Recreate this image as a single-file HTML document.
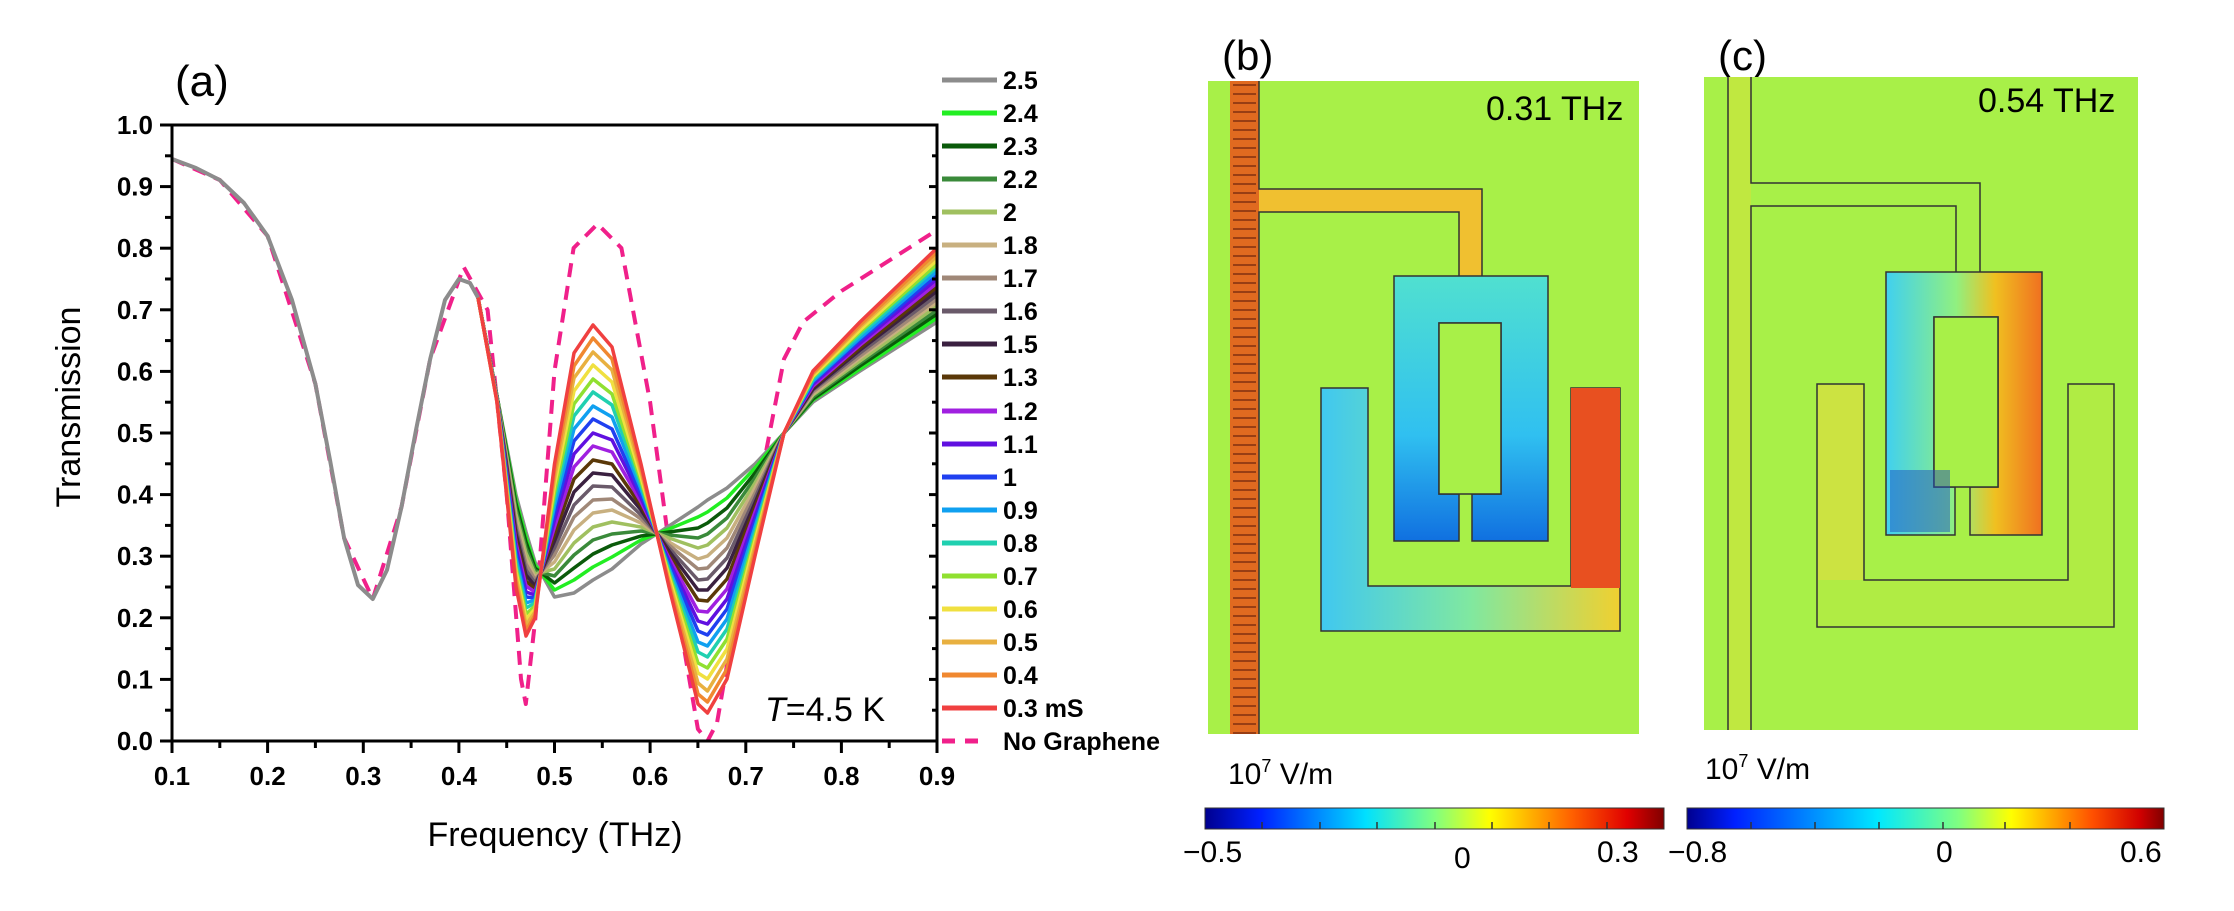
<!DOCTYPE html>
<html><head><meta charset="utf-8">
<style>
html,body{margin:0;padding:0;background:#fff;}
svg{display:block;}
text{font-family:"Liberation Sans",Arial,sans-serif;}
</style></head>
<body>
<svg width="2234" height="911" viewBox="0 0 2234 911" xmlns="http://www.w3.org/2000/svg">
<defs>
<linearGradient id="jet" x1="0" x2="1" y1="0" y2="0">
<stop offset="0" stop-color="#00008f"/><stop offset="0.12" stop-color="#0020ff"/>
<stop offset="0.35" stop-color="#00e0ff"/><stop offset="0.5" stop-color="#80ff80"/>
<stop offset="0.62" stop-color="#ffff00"/><stop offset="0.8" stop-color="#ff6000"/>
<stop offset="0.92" stop-color="#e00000"/><stop offset="1" stop-color="#800000"/>
</linearGradient>
<linearGradient id="jet2" x1="0" x2="1" y1="0" y2="0">
<stop offset="0" stop-color="#00008f"/><stop offset="0.1" stop-color="#0020ff"/>
<stop offset="0.4" stop-color="#00e8ff"/><stop offset="0.57" stop-color="#80ff80"/>
<stop offset="0.68" stop-color="#ffff00"/><stop offset="0.85" stop-color="#ff5000"/>
<stop offset="0.95" stop-color="#d00000"/><stop offset="1" stop-color="#800000"/>
</linearGradient>
<linearGradient id="boxb" x1="0" x2="0" y1="0" y2="1">
<stop offset="0" stop-color="#50e0d0"/><stop offset="0.6" stop-color="#30c0f0"/><stop offset="1" stop-color="#1070e0"/>
</linearGradient>
<linearGradient id="ub" x1="0" x2="1" y1="0" y2="0">
<stop offset="0" stop-color="#40c8f0"/><stop offset="0.5" stop-color="#80e8a0"/><stop offset="1" stop-color="#f0d030"/>
</linearGradient>
<linearGradient id="boxc" x1="0" x2="1" y1="0" y2="0">
<stop offset="0" stop-color="#40d0f0"/><stop offset="0.45" stop-color="#90f080"/><stop offset="0.7" stop-color="#f0c020"/><stop offset="1" stop-color="#f07020"/>
</linearGradient>
<pattern id="arr" width="29" height="9" patternUnits="userSpaceOnUse" x="1230" y="81">
<rect width="29" height="9" fill="#e06a20"/><line x1="3" y1="4" x2="26" y2="4" stroke="#803010" stroke-width="1.5"/>
</pattern>
<clipPath id="cp"><rect x="172" y="125" width="765" height="616"/></clipPath>
</defs>

<!-- Panel a -->
<text x="175" y="96" font-size="44">(a)</text>
<g clip-path="url(#cp)" fill="none" stroke-width="3.5" stroke-linejoin="round">
<polyline stroke="#f0208a" stroke-width="4" stroke-dasharray="14,9" points="172,159 219.8,180 267.6,236 315.4,384 344.1,538 372.8,599 401.5,507 430.2,359 463.7,267 487.6,310 506.7,495 521,679 525.8,704 535.4,618 554.5,371 573.6,248 597.5,224 621.4,248 650.1,402 678.8,618 697.9,729 707.5,741 717,723 745.8,556 784,359 803.1,322 841.4,291 937,230"/>
<polyline stroke="#8c8c8c" points="478,297.5 497,396 516,495 526,532 535,562 554.5,597 574,593 593,580 612,569 641,544 669,526 698,507 707.5,500 727,488 755,464 784,433 813,402 860,371 937,322"/>
<polyline stroke="#22ee22" points="478,297.5 497,396 516,500 526,537 535,565 554.5,590 574,580 593,567 612,557 641,540 669,529 698,517 707.5,512 727,498 755,468 784,433 813,400 860,369 937,318"/>
<polyline stroke="#0a5a0a" points="478,297.5 497,396 516,504 526,542 535,568 554.5,583 574,568 593,554 612,545 641,536 669,532 698,528 707.5,523 727,508 755,473 784,433 813,399 860,366 937,314"/>
<polyline stroke="#3a8a3a" points="478,297.5 497,397 516,509 526,548 535,571 554.5,576 574,555 593,540 612,534 641,531 669,535 698,538 707.5,534 727,518 755,478 784,433 813,397 860,363 937,310"/>
<polyline stroke="#a0c060" points="478,297.5 497,397 516,514 526,553 535,574 554.5,569 574,543 593,527 612,522 641,527 669,538 698,548 707.5,545 727,528 755,483 784,433 813,395 860,361 937,306"/>
<polyline stroke="#c8b080" points="478,297.5 497,397 516,519 526,559 535,577 554.5,562 574,530 593,513 612,510 641,523 669,542 698,559 707.5,556 727,538 755,488 784,433 813,394 860,358 937,302"/>
<polyline stroke="#a08878" points="478,297.5 497,398 516,524 526,564 535,580 554.5,555 574,517 593,500 612,499 641,519 669,545 698,569 707.5,568 727,548 755,493 784,433 813,392 860,356 937,299"/>
<polyline stroke="#6a5a6a" points="478,297.5 497,398 516,529 526,570 535,583 554.5,548 574,505 593,486 612,487 641,515 669,548 698,580 707.5,579 727,558 755,498 784,433 813,390 860,353 937,295"/>
<polyline stroke="#3a2040" points="478,297.5 497,398 516,534 526,575 535,586 554.5,541 574,492 593,473 612,475 641,510 669,551 698,590 707.5,590 727,568 755,503 784,433 813,389 860,350 937,291"/>
<polyline stroke="#5a3808" points="478,297.5 497,399 516,538 526,581 535,589 554.5,534 574,479 593,460 612,464 641,506 669,555 698,600 707.5,601 727,579 755,507 784,433 813,387 860,348 937,287"/>
<polyline stroke="#a020e0" points="478,297.5 497,399 516,543 526,586 535,592 554.5,527 574,467 593,446 612,452 641,502 669,558 698,611 707.5,612 727,589 755,512 784,433 813,386 860,345 937,283"/>
<polyline stroke="#6010e0" points="478,297.5 497,399 516,548 526,592 535,595 554.5,520 574,454 593,433 612,440 641,498 669,561 698,621 707.5,624 727,599 755,517 784,433 813,384 860,343 937,279"/>
<polyline stroke="#2040f0" points="478,297.5 497,400 516,553 526,597 535,598 554.5,513 574,441 593,419 612,429 641,494 669,564 698,631 707.5,635 727,609 755,522 784,433 813,382 860,340 937,275"/>
<polyline stroke="#10a0f0" points="478,297.5 497,400 516,558 526,603 535,600 554.5,506 574,429 593,406 612,417 641,489 669,568 698,642 707.5,646 727,619 755,527 784,433 813,381 860,338 937,271"/>
<polyline stroke="#20d0b0" points="478,297.5 497,400 516,563 526,608 535,603 554.5,499 574,416 593,392 612,405 641,485 669,571 698,652 707.5,657 727,629 755,532 784,433 813,379 860,335 937,267"/>
<polyline stroke="#90e030" points="478,297.5 497,401 516,568 526,614 535,606 554.5,492 574,404 593,379 612,394 641,481 669,574 698,663 707.5,668 727,639 755,537 784,433 813,377 860,332 937,264"/>
<polyline stroke="#f0e040" points="478,297.5 497,401 516,572 526,619 535,609 554.5,485 574,391 593,365 612,382 641,477 669,577 698,673 707.5,679 727,649 755,541 784,433 813,376 860,330 937,260"/>
<polyline stroke="#e8b040" points="478,297.5 497,401 516,577 526,625 535,612 554.5,478 574,378 593,352 612,370 641,472 669,581 698,683 707.5,691 727,659 755,546 784,433 813,374 860,327 937,256"/>
<polyline stroke="#f08830" points="478,297.5 497,402 516,582 526,631 535,615 554.5,471 574,366 593,338 612,359 641,468 669,584 698,694 707.5,702 727,669 755,551 784,433 813,373 860,325 937,252"/>
<polyline stroke="#f04040" points="478,297.5 497,402 516,587 526,636 535,618 554.5,464 574,353 593,325 612,347 641,464 669,587 698,704 707.5,713 727,679 755,556 784,433 813,371 860,322 937,248"/>
<polyline stroke="#8c8c8c" stroke-width="4" points="172,159 196,168 219.8,180 244,203 267.6,236 292,300 315.4,384 330,460 344.1,538 358,585 372.8,599 387,570 401.5,507 416,430 430.2,359 445,300 458.9,279 470,283 478,297.5"/>
</g>
<rect x="172" y="125" width="765" height="616" fill="none" stroke="#000" stroke-width="3"/>
<g stroke="#000" stroke-width="3">
<line x1="172" y1="741" x2="172" y2="753"/><line x1="267.6" y1="741" x2="267.6" y2="753"/><line x1="363.3" y1="741" x2="363.3" y2="753"/><line x1="458.9" y1="741" x2="458.9" y2="753"/><line x1="554.5" y1="741" x2="554.5" y2="753"/><line x1="650.1" y1="741" x2="650.1" y2="753"/><line x1="745.8" y1="741" x2="745.8" y2="753"/><line x1="841.4" y1="741" x2="841.4" y2="753"/><line x1="937" y1="741" x2="937" y2="753"/>
<line x1="219.8" y1="741" x2="219.8" y2="748"/><line x1="315.4" y1="741" x2="315.4" y2="748"/><line x1="411.1" y1="741" x2="411.1" y2="748"/><line x1="506.7" y1="741" x2="506.7" y2="748"/><line x1="602.3" y1="741" x2="602.3" y2="748"/><line x1="697.9" y1="741" x2="697.9" y2="748"/><line x1="793.6" y1="741" x2="793.6" y2="748"/><line x1="889.2" y1="741" x2="889.2" y2="748"/>
<line x1="160" y1="741" x2="172" y2="741"/><line x1="160" y1="679.4" x2="172" y2="679.4"/><line x1="160" y1="617.8" x2="172" y2="617.8"/><line x1="160" y1="556.2" x2="172" y2="556.2"/><line x1="160" y1="494.6" x2="172" y2="494.6"/><line x1="160" y1="433" x2="172" y2="433"/><line x1="160" y1="371.4" x2="172" y2="371.4"/><line x1="160" y1="309.8" x2="172" y2="309.8"/><line x1="160" y1="248.2" x2="172" y2="248.2"/><line x1="160" y1="186.6" x2="172" y2="186.6"/><line x1="160" y1="125" x2="172" y2="125"/>
<line x1="165" y1="710.2" x2="172" y2="710.2"/><line x1="165" y1="648.6" x2="172" y2="648.6"/><line x1="165" y1="587" x2="172" y2="587"/><line x1="165" y1="525.4" x2="172" y2="525.4"/><line x1="165" y1="463.8" x2="172" y2="463.8"/><line x1="165" y1="402.2" x2="172" y2="402.2"/><line x1="165" y1="340.6" x2="172" y2="340.6"/><line x1="165" y1="279" x2="172" y2="279"/><line x1="165" y1="217.4" x2="172" y2="217.4"/><line x1="165" y1="155.8" x2="172" y2="155.8"/>
<line x1="929" y1="679.4" x2="937" y2="679.4"/><line x1="929" y1="617.8" x2="937" y2="617.8"/><line x1="929" y1="556.2" x2="937" y2="556.2"/><line x1="929" y1="494.6" x2="937" y2="494.6"/><line x1="929" y1="433" x2="937" y2="433"/><line x1="929" y1="371.4" x2="937" y2="371.4"/><line x1="929" y1="309.8" x2="937" y2="309.8"/><line x1="929" y1="248.2" x2="937" y2="248.2"/><line x1="929" y1="186.6" x2="937" y2="186.6"/>
<line x1="932" y1="710.2" x2="937" y2="710.2"/><line x1="932" y1="648.6" x2="937" y2="648.6"/><line x1="932" y1="587" x2="937" y2="587"/><line x1="932" y1="525.4" x2="937" y2="525.4"/><line x1="932" y1="463.8" x2="937" y2="463.8"/><line x1="932" y1="402.2" x2="937" y2="402.2"/><line x1="932" y1="340.6" x2="937" y2="340.6"/><line x1="932" y1="279" x2="937" y2="279"/><line x1="932" y1="217.4" x2="937" y2="217.4"/><line x1="932" y1="155.8" x2="937" y2="155.8"/>
</g>
<g font-weight="bold" font-size="26" text-anchor="middle">
<text x="172" y="785">0.1</text><text x="267.6" y="785">0.2</text><text x="363.3" y="785">0.3</text><text x="458.9" y="785">0.4</text><text x="554.5" y="785">0.5</text><text x="650.1" y="785">0.6</text><text x="745.8" y="785">0.7</text><text x="841.4" y="785">0.8</text><text x="937" y="785">0.9</text>
</g>
<g font-weight="bold" font-size="26" text-anchor="end">
<text x="153" y="750">0.0</text><text x="153" y="688.4">0.1</text><text x="153" y="626.8">0.2</text><text x="153" y="565.2">0.3</text><text x="153" y="503.6">0.4</text><text x="153" y="442">0.5</text><text x="153" y="380.4">0.6</text><text x="153" y="318.8">0.7</text><text x="153" y="257.2">0.8</text><text x="153" y="195.6">0.9</text><text x="153" y="134">1.0</text>
</g>
<text x="555" y="846" font-size="34" text-anchor="middle">Frequency (THz)</text>
<text transform="translate(80,407) rotate(-90)" font-size="34" text-anchor="middle">Transmission</text>
<text x="765" y="721" font-size="34"><tspan font-style="italic">T</tspan>=4.5 K</text>

<g stroke-width="5">
<line x1="942" y1="80" x2="997" y2="80" stroke="#8c8c8c"/>
<line x1="942" y1="113" x2="997" y2="113" stroke="#22ee22"/>
<line x1="942" y1="146" x2="997" y2="146" stroke="#0a5a0a"/>
<line x1="942" y1="179" x2="997" y2="179" stroke="#3a8a3a"/>
<line x1="942" y1="212" x2="997" y2="212" stroke="#a0c060"/>
<line x1="942" y1="245" x2="997" y2="245" stroke="#c8b080"/>
<line x1="942" y1="278" x2="997" y2="278" stroke="#a08878"/>
<line x1="942" y1="311" x2="997" y2="311" stroke="#6a5a6a"/>
<line x1="942" y1="344" x2="997" y2="344" stroke="#3a2040"/>
<line x1="942" y1="377" x2="997" y2="377" stroke="#5a3808"/>
<line x1="942" y1="411" x2="997" y2="411" stroke="#a020e0"/>
<line x1="942" y1="444" x2="997" y2="444" stroke="#6010e0"/>
<line x1="942" y1="477" x2="997" y2="477" stroke="#2040f0"/>
<line x1="942" y1="510" x2="997" y2="510" stroke="#10a0f0"/>
<line x1="942" y1="543" x2="997" y2="543" stroke="#20d0b0"/>
<line x1="942" y1="576" x2="997" y2="576" stroke="#90e030"/>
<line x1="942" y1="609" x2="997" y2="609" stroke="#f0e040"/>
<line x1="942" y1="642" x2="997" y2="642" stroke="#e8b040"/>
<line x1="942" y1="675" x2="997" y2="675" stroke="#f08830"/>
<line x1="942" y1="708" x2="997" y2="708" stroke="#f04040"/>
<line x1="942" y1="741" x2="985" y2="741" stroke="#f0208a" stroke-dasharray="13,10"/>
</g>
<g font-weight="bold" font-size="25">
<text x="1003" y="89">2.5</text><text x="1003" y="122">2.4</text><text x="1003" y="155">2.3</text><text x="1003" y="188">2.2</text><text x="1003" y="221">2</text><text x="1003" y="254">1.8</text><text x="1003" y="287">1.7</text><text x="1003" y="320">1.6</text><text x="1003" y="353">1.5</text><text x="1003" y="386">1.3</text><text x="1003" y="420">1.2</text><text x="1003" y="453">1.1</text><text x="1003" y="486">1</text><text x="1003" y="519">0.9</text><text x="1003" y="552">0.8</text><text x="1003" y="585">0.7</text><text x="1003" y="618">0.6</text><text x="1003" y="651">0.5</text><text x="1003" y="684">0.4</text><text x="1003" y="717">0.3 mS</text><text x="1003" y="750">No Graphene</text>
</g>

<!-- Panel b -->
<text x="1222" y="70" font-size="42">(b)</text>
<rect x="1208" y="81" width="431" height="653" fill="#a8f048"/>
<rect x="1230" y="81" width="29" height="653" fill="url(#arr)"/>
<polygon points="1259,189 1482,189 1482,276 1459,276 1459,212 1259,212" fill="#f0c030"/>
<polygon points="1394,276 1548,276 1548,541 1472,541 1472,494 1501,494 1501,323 1439,323 1439,494 1459,494 1459,541 1394,541" fill="url(#boxb)" stroke="#333" stroke-width="1.5"/>
<rect x="1439" y="323" width="62" height="171" fill="#a8f048" stroke="#333" stroke-width="1.5"/>
<polygon points="1321,388 1368,388 1368,586 1571,586 1571,388 1620,388 1620,631 1321,631" fill="url(#ub)" stroke="#333" stroke-width="1.5"/>
<rect x="1571" y="388" width="49" height="200" fill="#e85020"/>
<polyline points="1259,81 1259,189 1482,189 1482,276" fill="none" stroke="#333" stroke-width="1.5"/>
<polyline points="1259,734 1259,212 1459,212 1459,276" fill="none" stroke="#333" stroke-width="1.5"/>
<text x="1486" y="120" font-size="34">0.31 THz</text>

<!-- Panel c -->
<text x="1718" y="70" font-size="42">(c)</text>
<rect x="1704" y="77" width="434" height="653" fill="#a8f048"/>
<rect x="1728" y="77" width="23" height="653" fill="#c0e840"/>
<polygon points="1886,272 2042,272 2042,535 1970,535 1970,487 1998,487 1998,317 1934,317 1934,487 1955,487 1955,535 1886,535" fill="url(#boxc)" stroke="#333" stroke-width="1.5"/>
<rect x="1934" y="317" width="64" height="170" fill="#a8f048" stroke="#333" stroke-width="1.5"/>
<rect x="1890" y="470" width="60" height="62" fill="#2050c0" opacity="0.5"/>
<polygon points="1817,384 1864,384 1864,580 2068,580 2068,384 2114,384 2114,627 1817,627" fill="#b0ec44" stroke="#333" stroke-width="1.5"/>
<rect x="1818" y="385" width="45" height="195" fill="#d8e040" opacity="0.7"/>
<line x1="1728" y1="77" x2="1728" y2="730" stroke="#333" stroke-width="1.5"/>
<polyline points="1751,730 1751,206 1956,206 1956,272" fill="none" stroke="#333" stroke-width="1.5"/>
<polyline points="1751,77 1751,183 1980,183 1980,272" fill="none" stroke="#333" stroke-width="1.5"/>
<text x="1978" y="112" font-size="34">0.54 THz</text>

<!-- colorbars -->
<text x="1228" y="784" font-size="30">10<tspan font-size="18" dy="-12">7</tspan><tspan dy="12"> V/m</tspan></text>
<text x="1705" y="779" font-size="30">10<tspan font-size="18" dy="-12">7</tspan><tspan dy="12"> V/m</tspan></text>
<rect x="1205" y="808" width="459" height="21" fill="url(#jet)" stroke="#333" stroke-width="1"/>
<rect x="1687" y="808" width="477" height="21" fill="url(#jet2)" stroke="#333" stroke-width="1"/>
<g stroke="#333" stroke-width="1.5">
<line x1="1262" y1="822" x2="1262" y2="829"/><line x1="1320" y1="822" x2="1320" y2="829"/><line x1="1377" y1="822" x2="1377" y2="829"/><line x1="1435" y1="822" x2="1435" y2="829"/><line x1="1492" y1="822" x2="1492" y2="829"/><line x1="1549" y1="822" x2="1549" y2="829"/><line x1="1607" y1="822" x2="1607" y2="829"/>
<line x1="1751" y1="822" x2="1751" y2="829"/><line x1="1815" y1="822" x2="1815" y2="829"/><line x1="1879" y1="822" x2="1879" y2="829"/><line x1="1943" y1="822" x2="1943" y2="829"/><line x1="2005" y1="822" x2="2005" y2="829"/><line x1="2070" y1="822" x2="2070" y2="829"/>
</g>
<g font-size="30">
<text x="1183" y="862">−0.5</text><text x="1454" y="868">0</text><text x="1597" y="862">0.3</text>
<text x="1668" y="862">−0.8</text><text x="1936" y="862">0</text><text x="2120" y="862">0.6</text>
</g>
</svg>
</body></html>
